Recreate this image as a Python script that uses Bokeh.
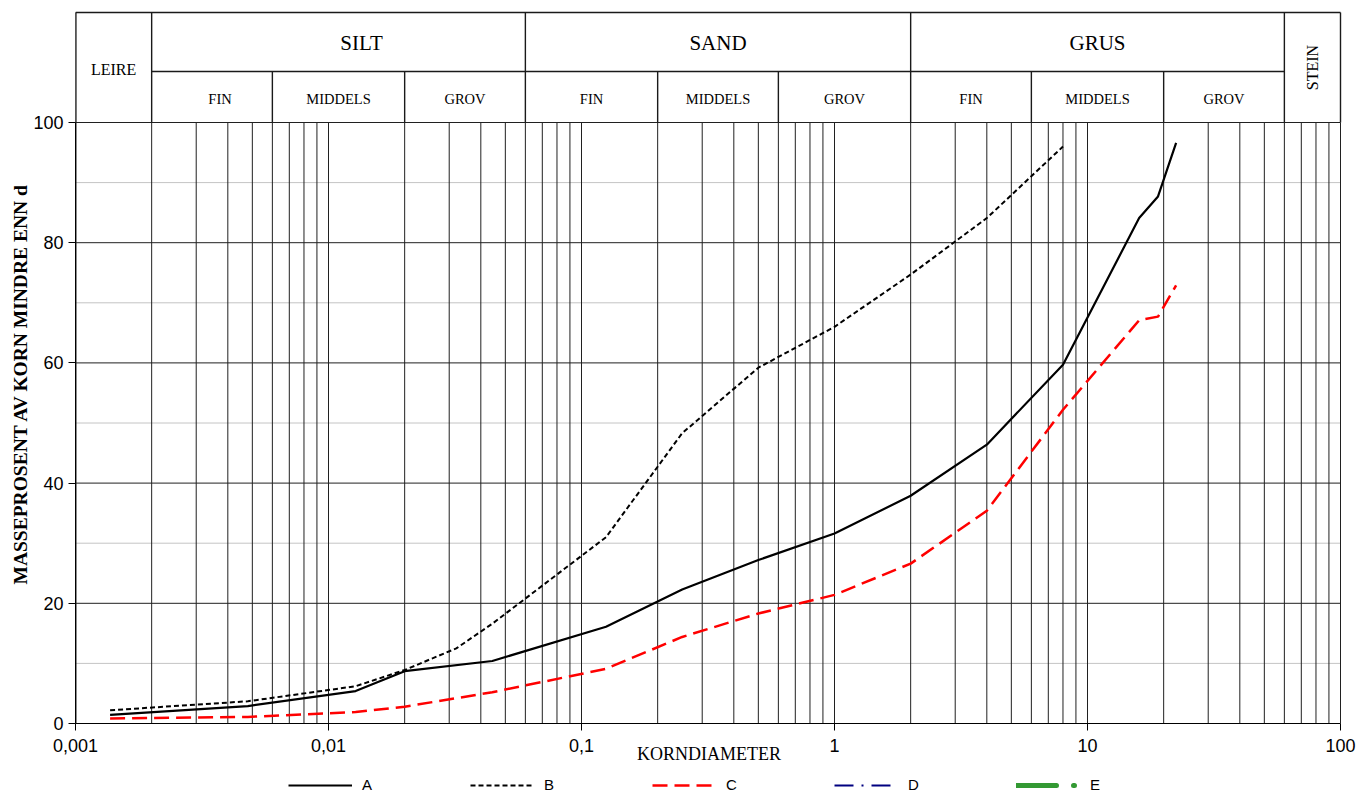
import math
from bokeh.plotting import figure
from bokeh.models import (Range1d, FixedTicker, CustomJSTickFormatter, Legend,
                          LegendItem, Title)
from bokeh.layouts import column
from bokeh.embed import file_html
from bokeh.resources import INLINE
from bokeh.core.properties import value

# ---------------- data ----------------
d_A = [0.00137, 0.0048, 0.0128, 0.020, 0.0444, 0.125, 0.25, 0.5, 1, 2, 4, 8, 16, 19, 22.4]
p_A = [1.45, 2.9, 5.4, 8.7, 10.4, 16.1, 22.3, 27.2, 31.6, 37.9, 46.4, 59.7, 84.1, 87.7, 96.6]

d_B = [0.00137, 0.0048, 0.0128, 0.020, 0.032, 0.0444, 0.125, 0.25, 0.5, 1, 2, 4, 8]
p_B = [2.2, 3.7, 6.2, 8.9, 12.5, 16.6, 31.0, 48.3, 59.2, 66.0, 74.7, 84.1, 96.0]

d_C = [0.00137, 0.0048, 0.0128, 0.020, 0.0444, 0.125, 0.25, 0.5, 1, 2, 4, 8, 16, 19, 22.4]
p_C = [0.85, 1.1, 1.9, 2.8, 5.2, 9.1, 14.4, 18.3, 21.4, 26.6, 35.4, 52.2, 67.1, 67.7, 72.9]

d_D = []
p_D = []
d_E = []
p_E = []

series_labels = ["A", "B", "C", "D", "E"]

x_ticks = [0.001, 0.01, 0.1, 1, 10, 100]
y_ticks = [0, 20, 40, 60, 80, 100]
y_minor = [10, 30, 50, 70, 90]

# soil class boundaries (mm)
main_classes = ["LEIRE", "SILT", "SAND", "GRUS", "STEIN"]
main_bounds = [0.001, 0.002, 0.06, 2, 60, 100]
sub_classes = ["FIN", "MIDDELS", "GROV", "FIN", "MIDDELS", "GROV", "FIN", "MIDDELS", "GROV"]
sub_bounds = [0.002, 0.006, 0.02, 0.06, 0.2, 0.6, 2, 6, 20, 60]

# ---------------- styles ----------------
styles = [
    dict(line_color="black", line_width=2.2),
    dict(line_color="black", line_width=2, line_dash="5 3"),
    dict(line_color="#ff0000", line_width=2.5, line_dash="15 7"),
    dict(line_color="#000080", line_width=2, line_dash="19 8 2 8"),
    dict(line_color="#339933", line_width=5, line_dash="40 17 1 60", line_cap="round"),
]

# ---------------- layout constants (pixels) ----------------
W = 1359
LEFT = 75
FRAME_TOP = 10
PLOT_TOP = 122      # pixel row of 100 %
PLOT_BOT = 723      # pixel row of 0 %
BOTTOM = 46
LEG_H = 793 - PLOT_BOT - BOTTOM
DEC_PX = 253.0      # pixels per decade
RPAD = 2            # extra px right of x=100 so the edge line is not clipped
FRAME_W = int(5 * DEC_PX + RPAD)
FRAME_H = PLOT_BOT - FRAME_TOP
UNIT = (PLOT_BOT - PLOT_TOP) / 100.0


def hy(px):
    """header row (pixel) -> data y"""
    return (PLOT_BOT - px) / UNIT


HDR_TOP = hy(12)
HDR_MID = hy(71)

grid_x = [k * 10.0 ** n for n in range(-3, 2) for k in range(1, 10)] + [100]

SERIF = value("Liberation Serif")

p = figure(x_axis_type="log",
           x_range=Range1d(0.001, 10 ** (2 + RPAD / DEC_PX)),
           y_range=Range1d(0, hy(FRAME_TOP)),
           frame_width=FRAME_W, frame_height=FRAME_H,
           min_border_left=LEFT, min_border_right=W - LEFT - FRAME_W,
           min_border_top=FRAME_TOP, min_border_bottom=BOTTOM,
           toolbar_location=None, output_backend="svg")
p.outline_line_color = None
p.xgrid.visible = False
p.ygrid.visible = False

GL = "#202020"
p.segment(x0=[0.001] * len(y_minor), x1=[100] * len(y_minor), y0=y_minor, y1=y_minor,
          line_color="#c4c4c4", line_width=1)
p.segment(x0=grid_x, x1=grid_x, y0=[0] * len(grid_x), y1=[100] * len(grid_x),
          line_color=GL, line_width=1)
p.segment(x0=[0.001] * len(y_ticks), x1=[100] * len(y_ticks), y0=y_ticks, y1=y_ticks,
          line_color=GL, line_width=1)

# ---------------- header ----------------
LC = "#1a1a1a"
LW = 1.4
p.segment(x0=main_bounds, x1=main_bounds, y0=[100] * len(main_bounds),
          y1=[HDR_TOP] * len(main_bounds), line_color=LC, line_width=LW)
p.segment(x0=[main_bounds[0]], x1=[main_bounds[0]], y0=[0], y1=[HDR_TOP],
          line_color=LC, line_width=2)
inner_sub = [b for b in sub_bounds if b not in main_bounds]
p.segment(x0=inner_sub, x1=inner_sub, y0=[100] * len(inner_sub),
          y1=[HDR_MID] * len(inner_sub), line_color=LC, line_width=LW)
p.segment(x0=[main_bounds[0], main_bounds[1]], x1=[main_bounds[-1], main_bounds[-2]],
          y0=[HDR_TOP, HDR_MID], y1=[HDR_TOP, HDR_MID], line_color=LC, line_width=LW)


def gmid(a, b):
    return math.sqrt(a * b)


top_x = [gmid(main_bounds[i], main_bounds[i + 1]) for i in (1, 2, 3)]
p.text(x=top_x, y=[hy(42)] * 3, text=main_classes[1:4], text_align="center",
       text_baseline="middle", text_font=SERIF, text_font_size="21px",
       text_color="black", x_offset=[23, 0, 0])
p.text(x=[gmid(main_bounds[0], main_bounds[1])], y=[hy(69)], text=[main_classes[0]],
       text_align="center", text_baseline="middle", text_font=SERIF,
       text_font_size="16px", text_color="black")
p.text(x=[gmid(main_bounds[4], main_bounds[5])], y=[hy(67)], text=[main_classes[4]],
       text_align="center", text_baseline="middle", text_font=SERIF,
       text_font_size="16px", text_color="black", angle=math.pi / 2)
sub_x = [gmid(sub_bounds[i], sub_bounds[i + 1]) for i in range(len(sub_classes))]
p.text(x=sub_x, y=[hy(98)] * len(sub_x), text=sub_classes, text_align="center",
       text_baseline="middle", text_font=SERIF, text_font_size="14.5px",
       text_color="black", x_offset=[8, 0, 0, 0, 0, 0, 0, 0, 0])

# ---------------- axes ----------------
p.xaxis.ticker = FixedTicker(ticks=x_ticks)
p.xaxis.formatter = CustomJSTickFormatter(code="return tick.toString().replace('.', ',');")
p.yaxis.ticker = FixedTicker(ticks=y_ticks)
p.xaxis.bounds = (0.001, 100)
p.yaxis.bounds = (0, 100)
for ax in (p.xaxis[0], p.yaxis[0]):
    ax.axis_line_color = "black"
    ax.axis_line_width = 1
    ax.major_tick_line_color = "black"
    ax.major_tick_out = 7
    ax.major_tick_in = 0
    ax.minor_tick_line_color = None
    ax.major_label_text_font = "Liberation Sans"
    ax.major_label_text_font_size = "18px"
    ax.major_label_text_color = "black"
p.xaxis.major_label_standoff = 8
p.yaxis.major_label_standoff = 5

p.xaxis.axis_label = "KORNDIAMETER"
p.xaxis.axis_label_text_font = "Liberation Serif"
p.xaxis.axis_label_text_font_size = "18px"
p.xaxis.axis_label_text_font_style = "normal"
p.xaxis.axis_label_text_color = "black"
p.xaxis.axis_label_standoff = -11

ytitle = Title(text="MASSEPROSENT AV KORN MINDRE ENN d", align="left", offset=139,
               text_font="Liberation Serif", text_font_size="19.5px",
               text_font_style="bold", text_color="black", standoff=0)
p.add_layout(ytitle, "left")

# ---------------- series ----------------
series = [(d_A, p_A), (d_B, p_B), (d_C, p_C), (d_D, p_D), (d_E, p_E)]
for (xs, ys), st in zip(series, styles):
    p.line(xs, ys, **st)

# ---------------- legend strip ----------------
lg = figure(width=W, height=LEG_H, x_range=Range1d(0, 1), y_range=Range1d(0, 1),
            min_border=0, x_axis_location=None, y_axis_location=None,
            toolbar_location=None, output_backend="svg")
lg.outline_line_color = None
lg.xgrid.visible = False
lg.ygrid.visible = False
NAN = float("nan")
# legend-only renderers (one undrawable point each, so the legend glyph renders)
leg_renderers = [lg.line([NAN], [NAN], **st) for st in styles]

legend = Legend(items=[LegendItem(label=l, renderers=[r]) for l, r in
                       zip(series_labels, leg_renderers)],
                orientation="horizontal", location=(213, 0),
                glyph_width=64, glyph_height=16, label_standoff=10, spacing=88,
                padding=0, margin=0, border_line_color=None,
                background_fill_alpha=0,
                label_text_font="Liberation Sans Narrow, Liberation Sans",
                label_text_font_size="15px", label_text_color="black")
lg.add_layout(legend)

layout = column(p, lg, spacing=0)
open("out.html", "w").write(file_html(layout, INLINE))
